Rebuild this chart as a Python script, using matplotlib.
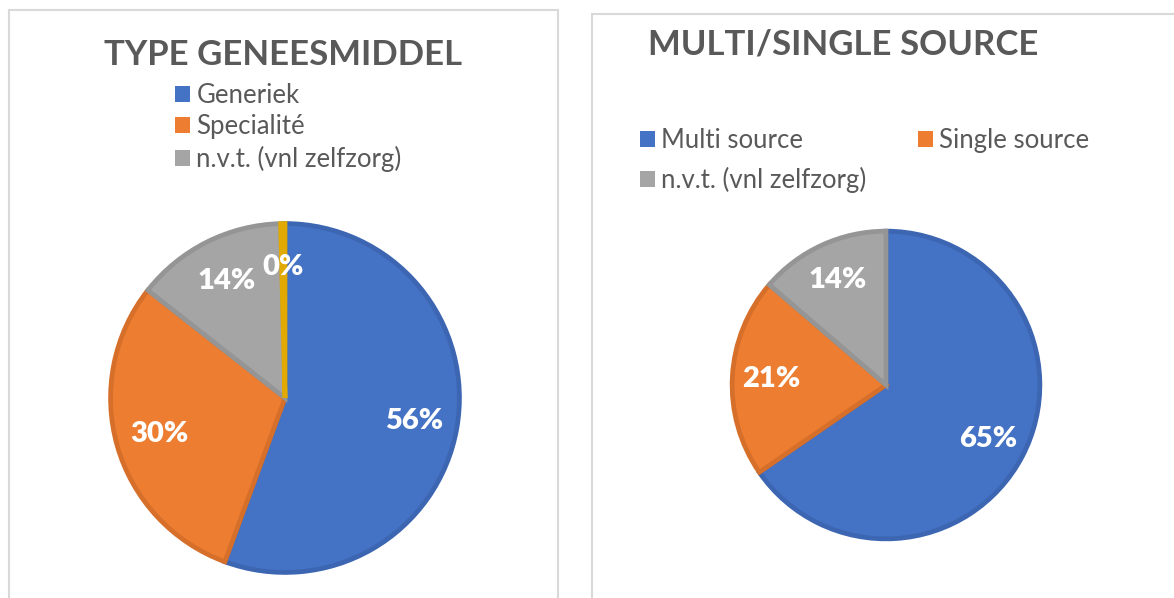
import matplotlib
matplotlib.use("Agg")
import matplotlib.pyplot as plt
from matplotlib.patches import Rectangle

# data
type_labels = ["Generiek", "Specialité", "n.v.t. (vnl zelfzorg)", "overig"]
type_values = [55.6, 30.0, 14.0, 0.4]
source_labels = ["Multi source", "Single source", "n.v.t. (vnl zelfzorg)"]
source_values = [65.4, 20.9, 13.7]

fill = ["#4472C4", "#ED7D31", "#A5A5A5", "#FFC000"]
edge = ["#3C65B2", "#D66F2A", "#959595", "#E2AA00"]

W, H = 1174, 598
plt.rcParams['font.family'] = ['Lato', 'DejaVu Sans']
fig = plt.figure(figsize=(W / 100, H / 100), dpi=100)


def px_box(x0, y0, x1, y1):
    # pixel box (top-left origin) -> figure fraction rect
    return [x0 / W, 1 - y1 / H, (x1 - x0) / W, (y1 - y0) / H]


def draw_pie(rect, values):
    ax = fig.add_axes(rect)
    wedges, _, autotexts = ax.pie(values, colors=fill[:len(values)], startangle=90,
                                  counterclock=False, radius=0.98, autopct="%.0f%%",
                                  pctdistance=0.75,
                                  wedgeprops=dict(linewidth=3.4))
    for w, c in zip(wedges, edge):
        w.set_edgecolor(c)
    for t in autotexts:
        t.set_color("white")
        t.set_fontsize(21)
        t.set_fontweight("heavy")
    ax.set_xlim(-1, 1)
    ax.set_ylim(-1, 1)
    ax.axis("off")
    return wedges


def clean_handles(leg):
    for h in leg.legend_handles:
        h.set_edgecolor("none")


# panel frames
for x0, y0, x1, y1 in [(9, 10, 558, 620), (592, 14, 1200, 620)]:
    r = Rectangle((x0 / W, 1 - y1 / H), (x1 - x0) / W, (y1 - y0) / H,
                  transform=fig.transFigure, facecolor="none",
                  edgecolor="#D9D9D9", linewidth=1.5)
    fig.patches.append(r)

leg_kw = dict(frameon=False, fontsize=18.5, handlelength=0.58, handleheight=0.58,
              handletextpad=0.25, borderpad=0, borderaxespad=0,
              labelcolor="#595959")

# left chart
fig.text(283 / W, 1 - 55 / H, "TYPE GENEESMIDDEL", ha="center", va="center",
         fontsize=25, fontweight="bold", color="#595959")
w1 = draw_pie(px_box(107, 220, 463, 576), type_values)
leg1 = fig.legend(w1[:3], type_labels[:3], loc="upper left",
                  bbox_to_anchor=(175 / W, 1 - 83 / H), labelspacing=0.25, **leg_kw)
clean_handles(leg1)

# right chart
fig.text(843 / W, 1 - 44 / H, "MULTI/SINGLE SOURCE", ha="center", va="center",
         fontsize=25, fontweight="bold", color="#595959")
w2 = draw_pie(px_box(729, 228, 1043, 542), source_values)
order = [0, 2, 1]
leg2 = fig.legend([w2[i] for i in order], [source_labels[i] for i in order],
                  loc="upper left", ncol=2, bbox_to_anchor=(640 / W, 1 - 128 / H),
                  labelspacing=0.56, columnspacing=2.0, **leg_kw)
clean_handles(leg2)

fig.savefig("out.png", dpi=100)
